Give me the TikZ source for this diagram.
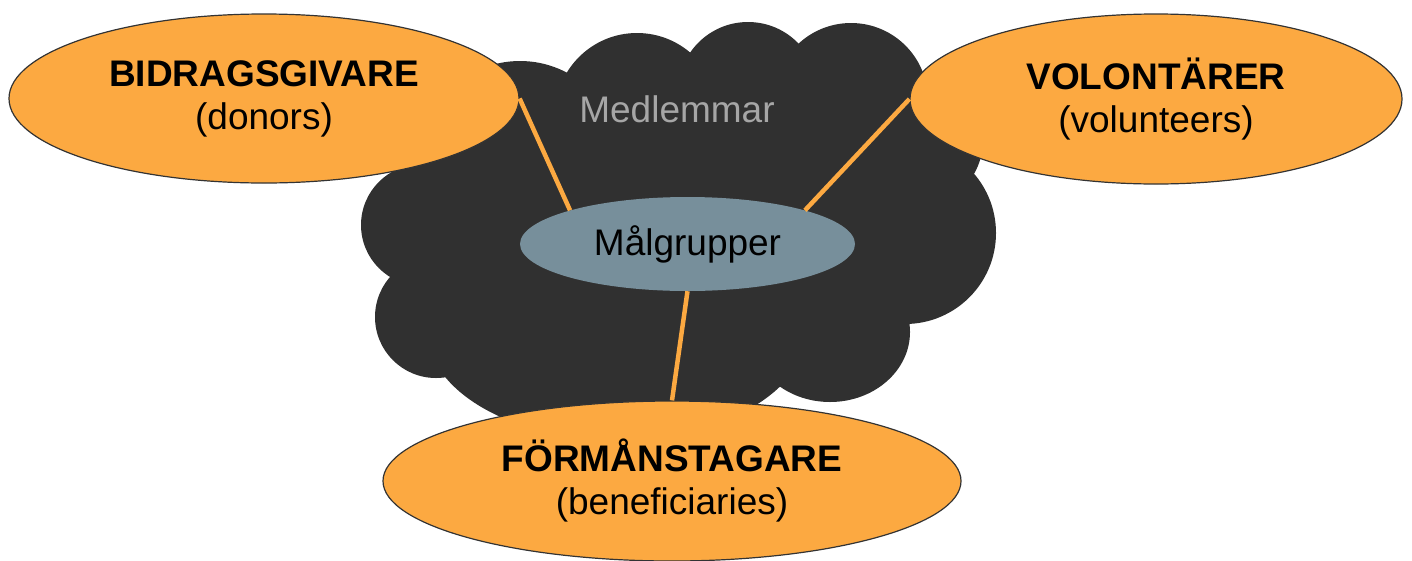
\documentclass[tikz,border=0pt]{standalone}
\usepackage{fontspec}
\setmainfont{Liberation Sans}
\usetikzlibrary{shapes.geometric}

\definecolor{cloudgrey}{HTML}{303030}
\definecolor{groupfill}{HTML}{FCA941}
\definecolor{centerfill}{HTML}{778F9B}
\definecolor{membertext}{HTML}{A6A6A6}
\definecolor{edgeline}{HTML}{333333}

\tikzset{
  bigfont/.style={font=\fontsize{37pt}{43pt}\selectfont},
  groupell/.style={ellipse, fill=groupfill, draw=edgeline, line width=1.2pt,
    inner sep=0pt, align=center, bigfont},
  centerell/.style={ellipse, fill=centerfill, inner sep=0pt, bigfont},
  memberlabel/.style={text=membertext, inner sep=0pt, bigfont},
  link/.style={draw=groupfill, line width=4.5pt},
  puff/.style={fill=cloudgrey}
}

\begin{document}
\begin{tikzpicture}[x=1pt, y=-1pt]
  \useasboundingbox (0,0) rectangle (1412,560);

  % the cloud of members: a union of overlapping puffs
  \fill[puff] (680,230) ellipse [x radius=230pt, y radius=150pt];
  \fill[puff] (520,161) circle [radius=100pt];
  \fill[puff] (637,115) circle [radius=82pt];
  \fill[puff] (748,92)  circle [radius=70pt];
  \fill[puff] (851,100) circle [radius=77pt];
  \fill[puff] (915,140) circle [radius=68pt];
  \fill[puff] (905,233) circle [radius=91pt];
  \fill[puff] (830,332) ellipse [x radius=80pt, y radius=70pt];
  \fill[puff] (617,330) ellipse [x radius=190pt, y radius=110pt];
  \fill[puff] (436,317) circle [radius=61pt];
  \fill[puff] (422,225) circle [radius=61pt];

  \node[memberlabel, anchor=base] (med) at (677,122) {Medlemmar};

  % the three groups and the target-group hub
  \node[groupell, minimum width=510pt, minimum height=169pt] (bid) at (264,98.5)
    {\textbf{BIDRAGSGIVARE}\\(donors)};
  \node[groupell, minimum width=492pt, minimum height=170pt] (vol) at (1156,99)
    {\textbf{VOLONTÄRER}\\(volunteers)};
  \node[groupell, minimum width=578pt, minimum height=160pt] (ben) at (672,481)
    {\textbf{FÖRMÅNSTAGARE}\\(beneficiaries)};
  \node[centerell, minimum width=335pt, minimum height=94pt] (mal) at (687.5,244)
    {Målgrupper};

  % links from each group to the hub
  \draw[link] (bid.east) -- (mal.164);
  \draw[link] (vol.west) -- (mal.16);
  \draw[link] (mal.south) -- (ben.north);
\end{tikzpicture}
\end{document}
